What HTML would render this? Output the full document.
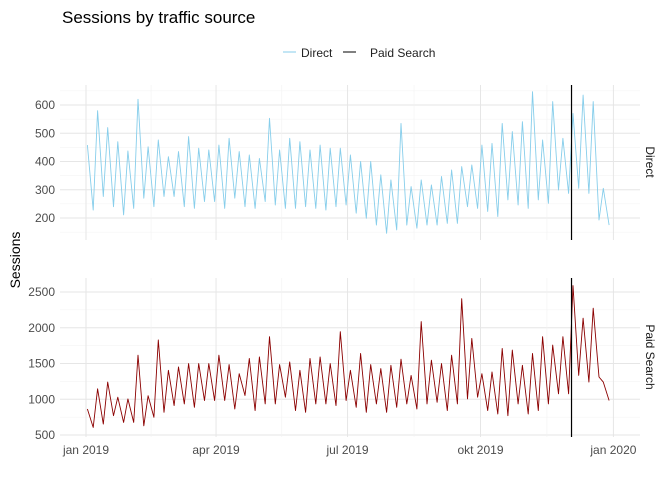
<!DOCTYPE html>
<html><head><meta charset="utf-8">
<style>
body{margin:0;background:#fff;font-family:"Liberation Sans",Arial,sans-serif;}
svg{display:block}
</style></head>
<body>
<svg id="chart" width="672" height="480" viewBox="0 0 672 480">
<text x="62" y="23" font-size="17" fill="#000">Sessions by traffic source</text>
<g>
<line x1="283" y1="52" x2="296" y2="52" stroke="#87CEEB" stroke-width="1"/>
<text x="301" y="57" font-size="12" fill="#222">Direct</text>
<line x1="343" y1="52" x2="356" y2="52" stroke="#000" stroke-width="1"/>
<text x="370" y="57" font-size="12" fill="#222">Paid Search</text>
</g>
<text transform="translate(20,260) rotate(-90)" text-anchor="middle" font-size="14" fill="#000">Sessions</text>
<g id="grid"></g>
<g id="series"></g>
<g id="labels"></g>
</svg>
<script>
const topTicks=[200,300,400,500,600];
const botTicks=[500,1000,1500,2000,2500];
const xTickLabels=["jan 2019","apr 2019","jul 2019","okt 2019","jan 2020"];
const xTickDays=[0,90,181,273,365];
const directHigh=[458,580,520,470,437,620,452,476,417,435,488,447,441,458,482,435,423,411,553,441,482,470,441,458,447,447,423,400,400,353,335,535,311,335,317,347,370,382,388,458,464,535,506,541,647,476,612,482,570,635,612,305,240];
const directLow=[228,276,240,211,234,270,240,276,276,240,234,258,258,234,270,240,234,258,246,234,234,240,234,228,240,246,217,199,175,146,158,175,164,175,175,181,181,240,234,223,205,264,246,234,264,252,299,287,305,287,193,175,181];
const paidHigh=[864,1146,1240,1029,1005,1616,1050,1828,1405,1452,1499,1499,1499,1616,1485,1358,1570,1593,1875,1485,1522,1405,1570,1593,1499,1945,1405,1640,1485,1428,1475,1560,1334,2086,1546,1499,1616,2406,1851,1358,1381,1710,1687,1475,1640,1875,1757,1875,2590,2133,2274,1240,1381];
const paidLow=[606,653,770,676,676,629,747,817,911,935,888,982,982,982,864,1052,841,935,935,1029,841,817,935,935,911,982,888,817,935,817,888,935,864,935,958,841,935,1005,1029,841,794,770,935,794,841,935,1076,1076,1334,1240,1311,982,911];
const eventDay=[336];

const NS="http://www.w3.org/2000/svg";
const X0=86,PX=1.445,L=60,R=640;
const xs=d=>X0+d*PX;
const yTop=v=>105+(600-v)*0.2825;
const yBot=v=>292+(2500-v)*0.0715;
function mk(tag,attrs,parent){const e=document.createElementNS(NS,tag);for(const k in attrs)e.setAttribute(k,attrs[k]);parent.appendChild(e);return e;}
const grid=document.getElementById('grid'),ser=document.getElementById('series'),lab=document.getElementById('labels');
const panels=[{y0:85,y1:240,f:yTop,ticks:topTicks,step:50,min:150,max:650,name:'direct'},{y0:278,y1:437,f:yBot,ticks:botTicks,step:250,min:500,max:2750,name:'paid-search'}];
panels.forEach(p=>{
  for(let v=p.min;v<=p.max;v+=p.step){const y=p.f(v);if(y<p.y0-1||y>p.y1+1)continue;
    const major=p.ticks.includes(v);
    const g=mk('line',{x1:L,x2:R,y1:y,y2:y,stroke:major?'#e6e6e6':'#f2f2f2','stroke-width':major?1:0.6},grid);
    
    }
  for(let i=0;i<xTickDays.length;i++){
    const x=xs(xTickDays[i]);
    const g=mk('line',{x1:x,x2:x,y1:p.y0,y2:p.y1,stroke:'#e6e6e6','stroke-width':1},grid);
    
    
    if(i<xTickDays.length-1){const xm=xs((xTickDays[i]+xTickDays[i+1])/2);
      const m=mk('line',{x1:xm,x2:xm,y1:p.y0,y2:p.y1,stroke:'#f2f2f2','stroke-width':0.6},grid);
      
      }
  }
  p.ticks.forEach(v=>{const t=mk('text',{x:55,y:p.f(v)+4,'text-anchor':'end','font-size':12,fill:'#4d4d4d'},lab);t.textContent=v;
    
    });
});
function series(hi,lo,f,color,name){
  const pts=[];
  for(let k=0;k<hi.length;k++){
    const d1=7*k+1,d2=7*k+5;
    if(d1<=364)pts.push([xs(d1),f(hi[k])]);
    if(d2<=364)pts.push([xs(d2),f(lo[k])]);
  }
  const pl=mk('polyline',{points:pts.map(p=>p[0].toFixed(1)+','+p[1].toFixed(1)).join(' '),fill:'none',stroke:color,'stroke-width':0.9,'stroke-linejoin':'round'},ser);
  
  
}
series(directHigh,directLow,yTop,'#87CEEB','direct-line');
series(paidHigh,paidLow,yBot,'#8B0000','paid-search-line');
panels.forEach(p=>{eventDay.forEach(d=>{const x=xs(d);
  const v=mk('line',{x1:x,x2:x,y1:p.y0,y2:p.y1,stroke:'#000','stroke-width':1.2},ser);
  
  });});
xTickLabels.forEach((s,i)=>{const t=mk('text',{x:xs(xTickDays[i]),y:454,'text-anchor':'middle','font-size':12,fill:'#4d4d4d'},lab);t.textContent=s;
  
  });
[['Direct',162],['Paid Search',357]].forEach(([s,y])=>{const t=mk('text',{transform:`translate(646,${y}) rotate(90)`,'text-anchor':'middle','font-size':12,fill:'#1a1a1a'},lab);t.textContent=s;
  
  });
</script>
</body></html>
